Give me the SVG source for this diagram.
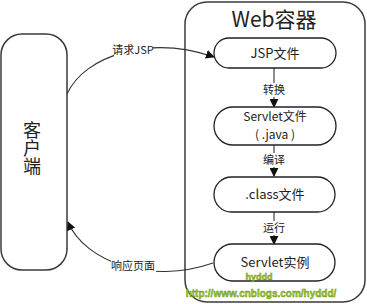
<svg xmlns="http://www.w3.org/2000/svg" width="367" height="304" viewBox="0 0 367 304">
<style>
.box{fill:#fff;stroke:#3a3a3a;stroke-width:1.5}
.pill{fill:#fff;stroke:#222;stroke-width:1.3}
.t{font-family:"Noto Sans CJK SC","Noto Sans",sans-serif;fill:#222;text-anchor:middle}
.lbl{font-size:11px}
.node{font-size:13px}
.line{fill:none;stroke:#333;stroke-width:1.1}
.wm{font-family:"Liberation Sans",sans-serif;font-weight:bold;fill:#9acd32;stroke:#6a8a10;stroke-width:0.4;text-anchor:middle}
</style>
<defs>
<marker id="ah" viewBox="0 0 10 10" refX="9" refY="5" markerWidth="9" markerHeight="9" markerUnits="userSpaceOnUse" orient="auto">
<path d="M0,0 L10,5 L0,10 z" fill="#111"/>
</marker>
</defs>
<rect width="367" height="304" fill="#fff"/>
<g id="client">
<rect class="box" x="1" y="34" width="66" height="236" rx="21"/>
<text class="t" x="32" y="148" font-size="18" writing-mode="vertical-rl">客户端</text>
</g>
<g id="container">
<rect class="box" x="185" y="2" width="180" height="300" rx="22"/>
<text class="t" x="274" y="27" font-size="21">Web容器</text>
</g>
<g id="connectors">
<path class="line" d="M67,94 C85,55 150,35 214,57" marker-end="url(#ah)"/>
<path class="line" d="M213,263 C150,285 85,262 68,222" marker-end="url(#ah)"/>
<line class="line" x1="274" y1="68" x2="274" y2="107" marker-end="url(#ah)"/>
<line class="line" x1="274" y1="145" x2="274" y2="176" marker-end="url(#ah)"/>
<line class="line" x1="274" y1="212" x2="274" y2="244" marker-end="url(#ah)"/>
<rect x="114" y="43" width="39" height="13" fill="#fff"/>
<text class="t lbl" x="133" y="54">请求JSP</text>
<rect x="111" y="259" width="45" height="13" fill="#fff"/>
<text class="t lbl" x="133" y="270">响应页面</text>
<rect x="262" y="83" width="24" height="14" fill="#fff"/>
<text class="t lbl" x="274" y="94">转换</text>
<rect x="262" y="153" width="24" height="14" fill="#fff"/>
<text class="t lbl" x="274" y="164">编译</text>
<rect x="262" y="221" width="24" height="14" fill="#fff"/>
<text class="t lbl" x="274" y="232">运行</text>
</g>
<g id="jsp">
<rect class="pill" x="214" y="38" width="122" height="30" rx="15"/>
<text class="t node" x="275" y="58">JSP文件</text>
</g>
<g id="servletfile">
<rect class="pill" x="214" y="107" width="122" height="38" rx="19"/>
<text class="t" x="275" y="121" font-size="12">Servlet文件</text>
<text class="t" x="275" y="139" font-size="12">( .java )</text>
</g>
<g id="classfile">
<rect class="pill" x="214" y="177" width="121" height="35" rx="17.5"/>
<text class="t node" x="275" y="199">.class文件</text>
</g>
<g id="servletinstance">
<rect class="pill" x="214" y="244" width="121" height="37" rx="18.5"/>
<text class="t node" x="275" y="267">Servlet实例</text>
</g>
<g id="watermark">
<text class="wm" x="259" y="280" font-size="9">hyddd</text>
<text class="wm" x="261" y="297" font-size="10">http://www.cnblogs.com/hyddd/</text>
</g>
</svg>
